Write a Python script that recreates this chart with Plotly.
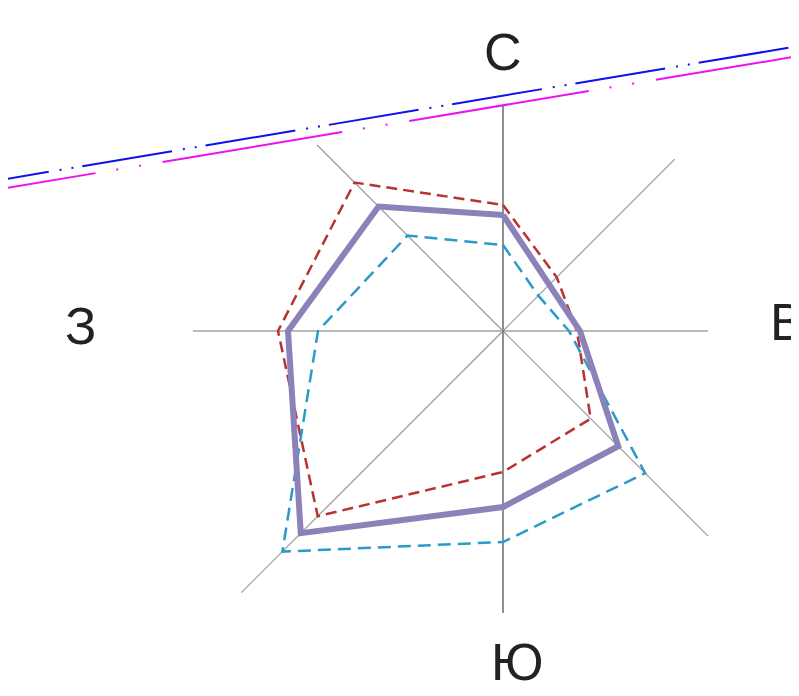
import numpy as np
import plotly.graph_objects as go

# направления (румбы), по часовой стрелке от севера
directions = ["С", "СВ", "В", "ЮВ", "Ю", "ЮЗ", "З", "СЗ"]
angles_deg = [0, 45, 90, 135, 180, 225, 270, 315]

# длины осей-лучей
spoke_len = [22.6, 24.3, 20.5, 29.0, 28.2, 37.0, 31.0, 26.3]

# значения по трём сериям
series_red = [12.6, 7.6, 7.4, 12.4, 14.1, 26.2, 22.5, 21.0]
series_purple = [11.6, 6.5, 7.7, 16.3, 17.6, 28.6, 21.5, 17.6]
series_blue = [8.6, 5.0, 6.6, 20.1, 21.1, 31.2, 18.5, 13.5]

# подписи сторон света
label_text = ["С", "В", "Ю", "З"]

# линии в верхней части (штрихпунктир)
line_blue_x = [-54.4, 29.9]
line_blue_y = [14.41, 28.55]
line_magenta_x = [-58.7, 29.9]
line_magenta_y = [12.8, 27.55]


def to_xy(values):
    th = np.radians(np.asarray(angles_deg, dtype=float))
    r = np.asarray(values, dtype=float)
    x = r * np.sin(th)
    y = r * np.cos(th)
    return np.append(x, x[0]), np.append(y, y[0])


fig = go.Figure()

spoke_colors = ["#444444", "#999999", "#777777", "#999999", "#444444", "#999999", "#777777", "#999999"]
for ang, ln, col in zip(angles_deg, spoke_len, spoke_colors):
    t = np.radians(ang)
    fig.add_trace(go.Scatter(
        x=[0, ln * np.sin(t)], y=[0, ln * np.cos(t)],
        mode="lines", line=dict(color=col, width=1.2),
        hoverinfo="skip", showlegend=False,
    ))

x, y = to_xy(series_red)
fig.add_trace(go.Scatter(x=x, y=y, mode="lines", showlegend=False,
                         line=dict(color="#B83232", width=2.5, dash="11px,6px")))
x, y = to_xy(series_blue)
fig.add_trace(go.Scatter(x=x, y=y, mode="lines", showlegend=False,
                         line=dict(color="#2A9BC9", width=2.5, dash="13px,7px")))
x, y = to_xy(series_purple)
fig.add_trace(go.Scatter(x=x, y=y, mode="lines", showlegend=False,
                         line=dict(color="#8B82BA", width=6)))

fig.add_trace(go.Scatter(x=line_blue_x, y=line_blue_y, mode="lines", showlegend=False,
                         line=dict(color="#1010EE", width=2, dash="91px,11px,2px,10px,2px,9px")))
fig.add_trace(go.Scatter(x=line_magenta_x, y=line_magenta_y, mode="lines", showlegend=False,
                         line=dict(color="#F010F0", width=2, dash="182px,21px,2px,21px,2px,22px")))

label_pos = [(0, 27.9, "center"), (26.5, 0.9, "left"), (1.4, -33.1, "center"), (-42.3, 0.5, "center")]
for txt, (lx, ly, xa) in zip(label_text, label_pos):
    fig.add_annotation(x=lx, y=ly, text=txt, showarrow=False,
                       font=dict(family="Liberation Sans, Arial", size=52, color="#222222"),
                       xanchor=xa, yanchor="middle")

# страница браузера имеет отступ 8px, поэтому диапазоны сдвинуты
fig.update_xaxes(range=[-49.5, 30.4], visible=False, showgrid=False, zeroline=False)
fig.update_yaxes(range=[-37.3, 32.3], visible=False, showgrid=False, zeroline=False)
fig.update_layout(
    width=799,
    height=696,
    margin=dict(l=0, r=0, t=0, b=0),
    plot_bgcolor="white",
    paper_bgcolor="white",
)

fig.write_html("out.html")
